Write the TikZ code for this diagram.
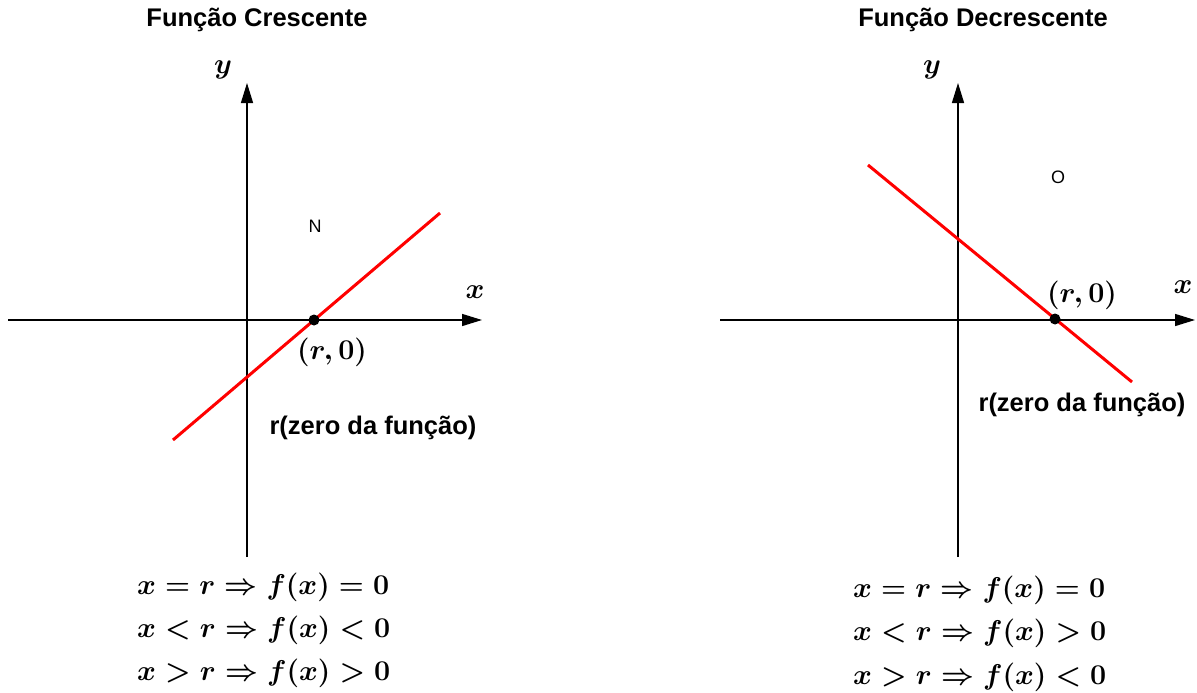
\RequirePackage{fix-cm}
\documentclass[tikz,border=0pt]{standalone}
\usepackage{fontspec}
\setmainfont{Liberation Sans}
\usetikzlibrary{arrows.meta}
\begin{document}
\begin{tikzpicture}[x=1pt,y=-1pt,
  axis/.style={line width=1.4pt,-{Triangle[length=20pt,width=12pt]}},
  redline/.style={red,line width=3pt},
  title/.style={font=\fontsize{25.5}{30}\bfseries\selectfont,inner sep=0pt},
  lbl/.style={font=\fontsize{25.5}{30}\bfseries\selectfont,inner sep=0pt},
  mth/.style={font=\fontsize{28.6}{34}\selectfont\boldmath,inner sep=0pt},
  mathl/.style={mth,anchor=west},
  small/.style={font=\fontsize{18}{21}\selectfont,inner sep=0pt},
  dotst/.style={circle,fill=black,inner sep=0pt,minimum size=11pt}]
\useasboundingbox (0,0) rectangle (1197,693);
% ---------- left panel ----------
\node[title] (t1) at (257,20) {Função Crescente};
\coordinate (lxa) at (8,320);
\coordinate (lxb) at (482,320);
\coordinate (lyb) at (247,557);
\coordinate (lya) at (247,83);
\draw[axis] (lxa) -- (lxb);
\draw[axis] (lyb) -- (lya);
\node[mth] (ly) at (223,70) {$y$};
\node[mth] (lx) at (475,292) {$x$};
\coordinate (lr1) at (173,440);
\coordinate (lr2) at (440,213);
\draw[redline] (lr1) -- (lr2);
\node[dotst] (lp) at (314,320) {};
\node[mth] (lpl) at (332,352) {$(r,0)$};
\node[small] (N) at (315,226) {N};
\node[lbl] (lz) at (373,428) {r(zero da função)};
\node[mathl] (lm1) at (137,587) {$x=r\Rightarrow f(x)=0$};
\node[mathl] (lm2) at (137,630) {$x<r\Rightarrow f(x)<0$};
\node[mathl] (lm3) at (137,673) {$x>r\Rightarrow f(x)>0$};
% ---------- right panel ----------
\node[title] (t2) at (983,20) {Função Decrescente};
\coordinate (rxa) at (720,320);
\coordinate (rxb) at (1195,320);
\coordinate (ryb) at (958,557);
\coordinate (rya) at (958,83);
\draw[axis] (rxa) -- (rxb);
\draw[axis] (ryb) -- (rya);
\node[mth] (ry) at (932,70) {$y$};
\node[mth] (rx) at (1183,287) {$x$};
\coordinate (rr1) at (868,165);
\coordinate (rr2) at (1132,382);
\draw[redline] (rr1) -- (rr2);
\node[dotst] (rp) at (1055,319) {};
\node[mth] (rpl) at (1082,295) {$(r,0)$};
\node[small] (O) at (1058,177) {O};
\node[lbl] (rz) at (1082,405) {r(zero da função)};
\node[mathl] (rm1) at (853,590) {$x=r\Rightarrow f(x)=0$};
\node[mathl] (rm2) at (853,633) {$x<r\Rightarrow f(x)>0$};
\node[mathl] (rm3) at (853,677) {$x>r\Rightarrow f(x)<0$};
\end{tikzpicture}
\end{document}
